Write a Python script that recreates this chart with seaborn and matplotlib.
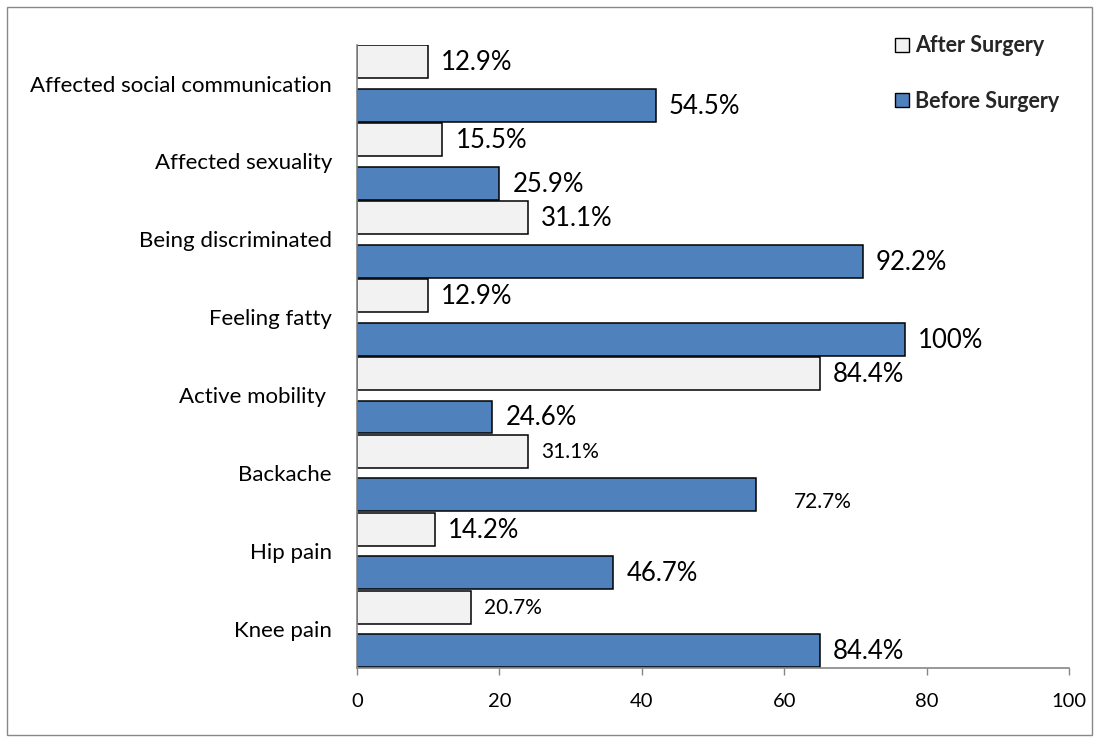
import matplotlib
matplotlib.use('Agg')
import matplotlib.pyplot as plt
import seaborn as sns
import pandas as pd
from matplotlib.patches import Rectangle

# ---- data ----
categories = ["Affected social communication", "Affected sexuality", "Being discriminated",
              "Feeling fatty", "Active mobility ", "Backache", "Hip pain", "Knee pain"]
series = ["After Surgery", "Before Surgery"]
after_values = [10, 12, 24, 10, 65, 24, 11, 16]
before_values = [42, 20, 71, 77, 19, 56, 36, 65]
after_labels = ["12.9%", "15.5%", "31.1%", "12.9%", "84.4%", "31.1%", "14.2%", "20.7%"]
before_labels = ["54.5%", "25.9%", "92.2%", "100%", "24.6%", "72.7%", "46.7%", "84.4%"]
x_ticks = [0, 20, 40, 60, 80, 100]

# ---- styles ----
colors = {"After Surgery": "#F2F2F2", "Before Surgery": "#4F81BD"}
small_labels = {("After Surgery", "Backache"), ("Before Surgery", "Backache"),
                ("After Surgery", "Knee pain")}
label_shift = {("Before Surgery", "Backache"): (38, -7)}

sns.set_theme(style="white")
plt.rcParams['font.family'] = ['Lato', 'DejaVu Sans']

df = pd.DataFrame({
    "category": categories * 2,
    "value": after_values + before_values,
    "series": [series[0]] * len(categories) + [series[1]] * len(categories),
    "label": after_labels + before_labels,
})

W, H = 1099, 742
fig = plt.figure(figsize=(W / 100, H / 100), dpi=100)
ax = fig.add_axes([357 / W, 1 - 668 / H, (1069 - 357) / W, (668 - 44.6) / H])

sns.barplot(data=df, y="category", x="value", hue="series", order=categories,
            hue_order=series, palette=colors, saturation=1, orient="h", width=1.115,
            gap=0.242, edgecolor="black", linewidth=1.1, ax=ax)
if ax.get_legend() is not None:
    ax.get_legend().remove()

ax.set_xlim(0, 100)
ax.set_ylim(len(categories) - 0.5, -0.5)
ax.set_xticks(x_ticks)
ax.set_xlabel("")
ax.set_ylabel("")
for s in ["top", "right"]:
    ax.spines[s].set_visible(False)
for s in ["left", "bottom"]:
    ax.spines[s].set_color("#868686")
    ax.spines[s].set_linewidth(1.2)
ax.tick_params(axis="x", direction="out", length=5, color="#868686", width=1,
               pad=13, labelsize=14.5, labelcolor="black", bottom=True)
ax.tick_params(axis="y", length=0, pad=18, labelsize=16, labelcolor="black")

# data labels
for cont, ser in zip(ax.containers, series):
    labs = df[df["series"] == ser].set_index("category").loc[categories, "label"].tolist()
    for bar, cat, lab in zip(cont, categories, labs):
        key = (ser, cat)
        size = 15 if key in small_labels else 18.5
        dx, dy = label_shift.get(key, (13, -1))
        ax.annotate(lab, xy=(bar.get_width(), bar.get_y() + bar.get_height() / 2),
                    xytext=(dx * 0.72, dy * 0.72), textcoords="offset points",
                    ha="left", va="center", fontsize=size, color="black")

# legend
handles = [Rectangle((0, 0), 1, 1, facecolor=colors[s], edgecolor="black", linewidth=1.0)
           for s in series]
fig.legend(handles, series, loc="upper left", bbox_to_anchor=(876 / W, 1 - 16 / H),
           frameon=False, prop={"weight": "bold", "size": 15.5}, handlelength=0.62,
           handleheight=0.62, handletextpad=0.3, labelspacing=1.6)

# figure border
fig.patches.append(Rectangle((7 / W, 7 / H), (1092 - 7) / W, (735 - 7) / H,
                             transform=fig.transFigure, fill=False,
                             edgecolor="#888888", linewidth=1.0))

fig.savefig("out.png", dpi=100)
